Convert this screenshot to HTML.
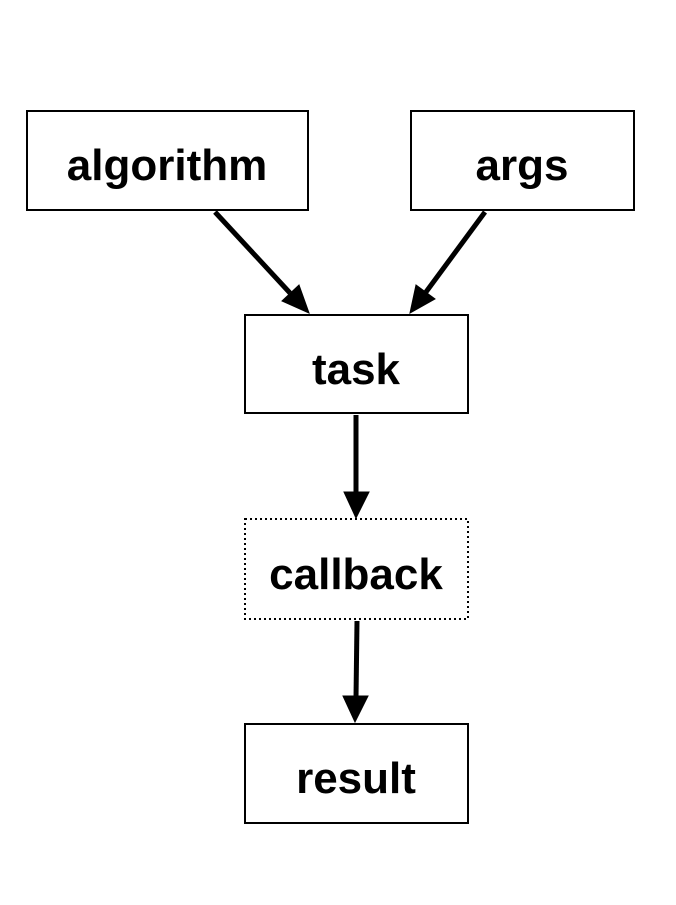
<!DOCTYPE html>
<html><head><style>
body{margin:0;background:#fff;}
svg text{font-family:"Liberation Sans",sans-serif;font-weight:bold;font-size:44px;}
</style></head><body>
<svg width="676" height="900" viewBox="0 0 676 900" xmlns="http://www.w3.org/2000/svg">
<g fill="none" stroke="#000" stroke-width="2">
<rect x="27" y="111" width="281" height="99"/>
<rect x="411" y="111" width="223" height="99"/>
<rect x="245" y="315" width="223" height="98"/>
<rect x="245" y="519" width="223" height="100" stroke-dasharray="2,3"/>
<rect x="245" y="724" width="223" height="99"/>
</g>
<g stroke="#000" stroke-width="5" fill="#000">
<line x1="215" y1="212" x2="290" y2="293"/>
<path d="M309,313 L282,301 L299,285 z" stroke-width="1"/>
<line x1="485" y1="212" x2="426" y2="292"/>
<path d="M410,313 L416,285 L435,299 z" stroke-width="1"/>
<line x1="356" y1="415" x2="356" y2="494"/>
<path d="M356,518 L344,492 L369,492 z" stroke-width="1"/>
<line x1="357" y1="621" x2="356" y2="698"/>
<path d="M355,722 L343,696 L368,696 z" stroke-width="1"/>
</g>
<g text-anchor="middle" fill="#000">
<text x="167" y="180">algorithm</text>
<text x="522" y="180">args</text>
<text x="356" y="384">task</text>
<text x="356" y="589">callback</text>
<text x="356" y="793">result</text>
</g>
</svg>
</body></html>
